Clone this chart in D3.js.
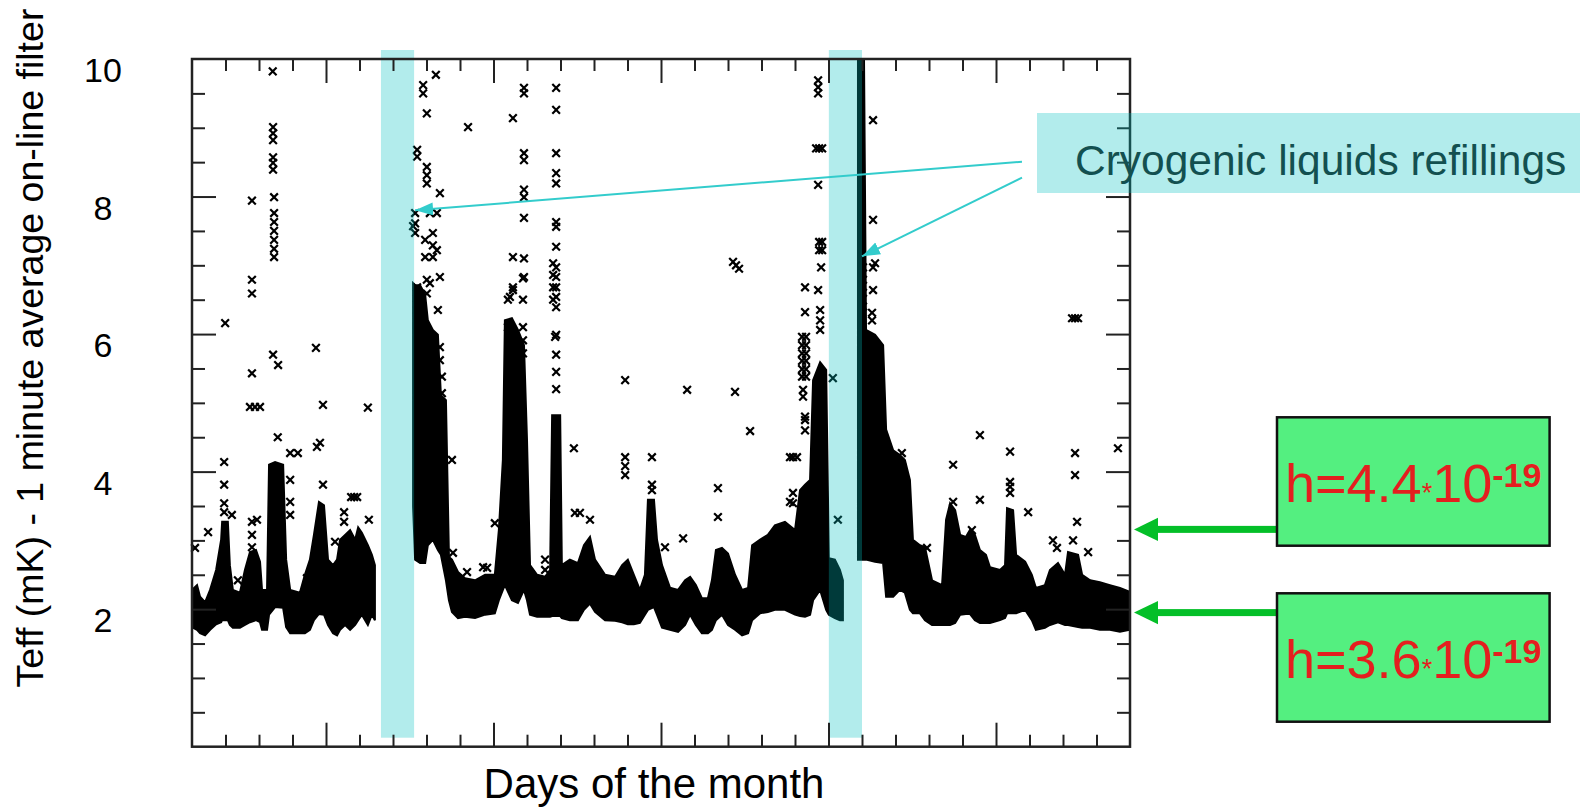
<!DOCTYPE html>
<html>
<head>
<meta charset="utf-8">
<script src="https://cdn.jsdelivr.net/npm/d3@7"></script>
<style>
body{margin:0;background:#fff;}
svg{display:block;font-family:"Liberation Sans",Arial,sans-serif;}
</style>
</head>
<body>
<svg width="1580" height="808"></svg>
<script>
// envelope of the dense cloud of 1-minute points: [day, low mK, high mK]
var envA=[
	[1.00,1.74,2.28],[1.15,1.70,2.35],[1.24,1.65,2.18],[1.39,1.62,2.10],[1.54,1.70,2.28],
	[1.72,1.78,2.57],[1.87,1.81,3.01],[1.90,1.84,3.27],[2.07,1.84,3.27],[2.13,1.77,2.64],
	[2.22,1.73,2.28],[2.43,1.73,2.24],[2.58,1.77,2.57],[2.73,1.81,2.83],[2.91,1.84,2.86],
	[3.03,1.81,2.69],[3.09,1.70,2.28],[3.24,1.70,2.28],[3.30,1.92,4.10],[3.48,2.03,4.14],
	[3.72,2.02,4.10],[3.81,1.74,2.72],[3.93,1.65,2.28],[4.22,1.65,2.24],[4.37,1.65,2.50],
	[4.52,1.70,2.72],[4.64,1.84,3.08],[4.79,1.93,3.56],[4.94,1.92,3.51],[5.06,1.77,2.72],
	[5.21,1.65,2.64],[5.33,1.62,2.72],[5.42,1.70,3.01],[5.57,1.77,3.08],[5.72,1.70,3.15],
	[5.87,1.77,3.01],[5.96,1.84,3.19],[6.07,1.92,3.11],[6.25,1.77,2.93],[6.37,1.92,2.79],
	[6.46,1.84,2.64]
];
var envB=[
	[7.60,3.49,6.74],[7.66,2.72,6.71],[7.81,2.67,6.71],[7.96,2.67,6.57],[8.04,2.93,6.20],
	[8.19,3.01,6.06],[8.34,2.86,5.99],[8.43,2.79,5.11],[8.58,2.42,5.04],[8.67,2.13,2.76],
	[8.76,1.96,2.72],[8.94,1.87,2.54],[9.15,1.89,2.45],[9.45,1.87,2.42],[9.75,1.92,2.50],
	[10.04,1.94,2.50],[10.16,2.13,3.15],[10.28,2.28,4.17],[10.34,2.35,6.20],[10.55,2.13,6.23],
	[10.73,2.09,6.06],[10.91,2.28,5.84],[11.00,2.13,4.46],[11.09,1.92,2.64],[11.30,1.89,2.50],
	[11.54,1.89,2.47],[11.69,1.89,2.57],[11.75,1.90,4.82],[11.99,1.90,4.82],[12.04,1.87,2.64],
	[12.28,1.84,2.72],[12.52,1.84,2.67],[12.70,1.99,2.93],[12.88,2.08,3.05],[13.03,1.96,2.72],
	[13.33,1.84,2.50],[13.63,1.83,2.47],[13.84,1.81,2.64],[14.01,1.78,2.72],[14.19,1.78,2.50],
	[14.37,1.80,2.28],[14.52,1.92,2.50],[14.61,1.99,3.59],[14.79,2.03,3.59],[14.88,1.92,3.01],
	[15.03,1.73,2.64],[15.27,1.70,2.31],[15.51,1.67,2.28],[15.72,1.77,2.42],[15.87,1.92,2.47],
	[16.04,1.77,2.35],[16.22,1.65,2.16],[16.40,1.65,2.16],[16.52,1.70,2.42],[16.64,1.84,2.86],
	[16.82,1.92,2.89],[17.00,1.77,2.81],[17.21,1.70,2.50],[17.42,1.62,2.28],[17.60,1.65,2.31],
	[17.72,1.84,2.93],[17.96,1.94,3.01],[18.19,1.96,3.08],[18.40,1.99,3.22],[18.70,1.99,3.27],
	[19.00,1.92,3.15],[19.15,1.90,3.73],[19.30,1.89,3.81],[19.45,1.92,3.88],[19.54,2.13,5.33],
	[19.75,2.28,5.59],[19.93,1.99,5.48],[20.01,1.92,2.74],[20.19,1.87,2.72],[20.34,1.84,2.57],
	[20.43,1.84,2.42]
];
var envC=[
	[20.88,2.72,9.99],[21.06,2.72,9.99],[21.12,2.72,6.06],[21.39,2.69,5.99],[21.63,2.67,5.84],
	[21.72,2.18,4.61],[21.93,2.18,4.31],[22.13,2.28,4.24],[22.28,2.24,4.17],[22.43,1.99,3.88],
	[22.52,1.94,3.01],[22.73,1.94,2.93],[22.88,1.84,2.90],[23.09,1.77,2.42],[23.39,1.77,2.35],
	[23.51,1.77,3.30],[23.63,1.77,3.54],[23.78,1.80,3.44],[23.93,1.92,3.08],[24.10,1.93,3.05],
	[24.22,1.93,3.15],[24.37,1.84,3.08],[24.52,1.80,2.86],[24.70,1.80,2.79],[24.82,1.80,2.61],
	[25.12,1.84,2.57],[25.27,1.87,2.64],[25.33,1.94,3.47],[25.51,1.94,3.44],[25.60,1.94,2.79],
	[25.87,1.99,2.69],[26.07,1.84,2.50],[26.19,1.70,2.31],[26.46,1.73,2.35],[26.61,1.77,2.57],
	[26.85,1.81,2.67],[27.06,1.77,2.50],[27.15,1.77,2.83],[27.45,1.74,2.79],[27.57,1.73,2.50],
	[27.81,1.73,2.42],[28.10,1.70,2.39],[28.40,1.70,2.35],[28.70,1.67,2.31],[29.00,1.70,2.25]
];
// isolated points above the cloud: [day, mK]
var outliers=[
	[3.41,9.82],[8.28,9.77],[7.90,9.62],[7.90,9.50],[8.01,9.21],[9.24,9.01],
	[3.42,9.01],[3.42,8.92],[3.42,8.82],[3.42,8.57],[3.42,8.49],[3.42,8.39],[3.45,7.99],
	[3.45,7.76],[3.45,7.63],[3.45,7.50],[3.45,7.37],[3.45,7.24],[3.45,7.12],
	[2.79,7.94],[2.79,6.79],[2.79,6.59],[1.99,6.16],[4.70,5.80],[3.42,5.70],[3.57,5.55],
	[2.79,5.43],[2.73,4.94],[2.88,4.94],[3.03,4.94],[4.91,4.97],[6.25,4.93],
	[7.66,7.76],[7.66,7.61],[7.66,7.47],[7.60,7.57],[7.72,8.68],[7.72,8.58],
	[8.01,8.43],[8.01,8.31],[8.01,8.19],[8.40,8.05],[8.10,7.76],[8.31,7.76],
	[7.96,7.37],[7.96,7.12],[8.19,7.47],[8.19,7.29],[8.19,7.12],[8.31,7.22],
	[7.72,6.68],[7.72,6.52],[7.72,6.35],[8.01,6.79],[8.01,6.59],[8.40,6.83],
	[3.56,4.50],[4.82,4.42],[4.73,4.36],[3.93,4.27],[4.16,4.27],
	[1.96,4.14],[1.96,3.81],[1.96,3.54],[1.96,3.41],[2.19,3.37],[1.48,3.12],[1.09,2.89],
	[2.79,3.27],[2.79,3.08],[2.94,3.30],[2.79,2.90],[4.91,3.81],
	[3.93,3.88],[3.93,3.56],[3.93,3.37],[5.75,3.63],[5.84,3.63],[5.93,3.63],
	[6.28,3.30],[5.54,3.41],[5.54,3.27],[2.37,2.42],[4.43,2.45],[5.27,2.98],
	[10.58,9.14],[10.91,9.58],[10.91,9.50],[11.87,9.58],[11.87,9.26],
	[10.91,8.63],[10.91,8.53],[11.87,8.63],[11.87,8.34],[11.87,8.19],
	[10.91,8.10],[10.91,7.99],[10.91,7.69],[11.87,7.63],[11.87,7.56],[11.87,7.27],
	[10.58,7.12],[10.91,7.10],[10.91,6.83],
	[11.87,6.97],[11.87,6.83],[11.87,6.68],[11.87,6.54],[11.87,6.39],
	[10.58,6.68],[10.49,6.54],[11.87,5.99],[11.87,5.70],[11.87,5.45],[11.87,5.20],
	[17.15,7.05],[17.24,7.00],[17.33,6.95],[13.93,5.33],[15.78,5.19],[17.21,5.16],
	[19.69,9.69],[19.69,9.59],[19.69,9.50],[19.63,8.70],[19.72,8.70],[19.81,8.70],
	[19.69,8.17],[19.72,7.34],[19.81,7.34],[19.72,7.22],[19.81,7.22],[19.78,6.97],
	[19.30,6.68],[19.69,6.64],[19.30,6.32],[19.75,6.35],[19.75,6.20],[19.75,6.06],
	[21.33,9.11],[21.33,7.66],[21.33,6.97],[21.39,7.03],
	[21.03,6.97],[21.03,6.79],[21.03,6.60],[21.03,6.40],[21.33,6.64],[21.30,6.31],[21.30,6.20],
	[17.66,4.59],[12.40,4.34],[13.93,4.21],[13.93,4.08],[13.93,3.95],[14.73,4.21],
	[14.73,3.81],[14.73,3.73],[16.70,3.76],[16.70,3.34],[15.66,3.03],
	[12.43,3.40],[12.58,3.40],[12.88,3.30],[18.94,3.54],[18.94,3.69],[18.94,4.21],[19.06,4.21],
	[19.30,4.75],[19.30,4.60],[10.04,3.25],[15.12,2.90],[11.54,2.72],[11.54,2.57],
	[20.13,5.36],[20.28,3.30],[21.33,4.85],[21.33,4.68],[21.33,4.50],
	[22.19,4.27],[22.19,4.07],[21.63,4.21],
	[19.21,5.96],[19.21,5.84],[19.21,5.72],[19.21,5.61],[19.21,5.49],[19.21,5.38],
	[19.33,5.96],[19.33,5.84],[19.33,5.72],[19.33,5.61],[19.33,5.49],[19.33,5.38],
	[19.24,5.19],[19.24,5.09],[19.30,4.80],
	[27.27,6.23],[27.36,6.23],[27.45,6.23],[24.52,4.53],[25.42,4.29],[23.72,4.10],
	[27.36,4.27],[27.36,3.95],[28.64,4.34],[25.42,3.85],[25.42,3.78],[25.42,3.69],
	[24.52,3.59],[23.72,3.56],[25.96,3.41],[27.42,3.27],[26.70,3.00],[26.82,2.89],
	[27.30,3.00],[27.75,2.83],[24.28,3.15],[22.94,2.89],
	[10.88,6.81],[10.58,6.64],[10.43,6.50],[10.88,6.50],[10.43,6.10],[10.88,6.10],
	[10.88,5.91],[10.88,5.72],[11.78,7.03],[11.78,6.86],[11.78,6.68],[11.78,6.50],[11.84,5.96],
	[8.10,6.74],[8.34,6.35],[8.40,5.81],[8.40,5.62],[8.46,5.38],[8.46,5.14],[8.76,4.17],
	[9.21,2.54],[9.69,2.61],[9.81,2.60],[7.87,3.08],[8.10,3.05],[8.79,2.82],
	[18.85,4.21],[18.85,3.56]
];
// refilling periods (day from, day to) and where the callout arrows point
var refills=[[6.64,7.63],[20.01,21.0]];
var refillTips=[[7.66,7.80],[21.0,7.13]];
var yLabels=[10,8,6,4,2];
var levelValues=[3.16,1.95];
var levelTexts=["4.4","3.6"];

var width=1580,height=808;
var plotLeft=192,plotRight=1130,plotTop=59,plotBottom=746.7;
var cyan="#00c0c0",cyanLine="#33cccc",green="#04bf28";

var x=d3.scaleLinear().domain([1,29]).range([plotLeft,plotRight]);
var y=d3.scaleLinear().domain([0,10]).range([plotBottom,plotTop]);
var svg=d3.select("svg");

// the cloud
var area=d3.area().x(function(d){return x(d[0]);}).y0(function(d){return y(d[1]);}).y1(function(d){return y(d[2]);});
svg.selectAll(".env").data([envA,envB,envC]).enter().append("path")
	.attr("d",area).attr("fill","#000").attr("stroke","#000").attr("stroke-width",2);

var sym=d3.symbol().type(d3.symbolX).size(40);
svg.selectAll(".pt").data(outliers).enter().append("path")
	.attr("transform",function(d){return "translate("+x(d[0])+","+y(d[1])+")";})
	.attr("d",sym).attr("fill","none").attr("stroke","#000").attr("stroke-width",2.2);

// refill bands, drawn over the points
svg.selectAll(".refill").data(refills).enter().append("rect")
	.attr("x",function(d){return x(d[0]);})
	.attr("width",function(d){return x(d[1])-x(d[0]);})
	.attr("y",y(10)-9).attr("height",y(0)-y(10))
	.attr("fill",cyan).attr("opacity",0.3);

// ticks on all four sides, pointing in
var minorDays=d3.range(2,29).filter(function(d){return d%5!=0;});
var majorDays=[5,10,15,20,25];
var minorVals=d3.range(0.5,10,0.5).filter(function(d){return d%2!=0;});
var majorVals=[2,4,6,8];
function tickRow(axisFn,scale,vals,len,tr) {
	var g=svg.append("g").attr("transform",tr)
		.call(axisFn(scale).tickValues(vals).tickSize(len).tickFormat(""));
	g.select(".domain").remove();
	g.selectAll("line").attr("stroke","#222").attr("stroke-width",2);
}
tickRow(d3.axisBottom,x,minorDays,-12,"translate(0,"+plotBottom+")");
tickRow(d3.axisBottom,x,majorDays,-24,"translate(0,"+plotBottom+")");
tickRow(d3.axisTop,x,minorDays,-12,"translate(0,"+plotTop+")");
tickRow(d3.axisTop,x,majorDays,-24,"translate(0,"+plotTop+")");
tickRow(d3.axisLeft,y,minorVals,-13,"translate("+plotLeft+",0)");
tickRow(d3.axisLeft,y,majorVals,-24,"translate("+plotLeft+",0)");
tickRow(d3.axisRight,y,minorVals,-13,"translate("+plotRight+",0)");
tickRow(d3.axisRight,y,majorVals,-24,"translate("+plotRight+",0)");
svg.append("rect").attr("x",plotLeft).attr("y",plotTop)
	.attr("width",plotRight-plotLeft).attr("height",plotBottom-plotTop)
	.attr("fill","none").attr("stroke","#222").attr("stroke-width",2.5);

svg.selectAll(".ylab").data(yLabels).enter().append("text")
	.attr("x",103).attr("y",function(d){return y(d)+23;})
	.attr("text-anchor","middle").attr("font-size",34).attr("fill","#000")
	.text(function(d){return d;});

svg.append("text").attr("x",654).attr("y",798).attr("text-anchor","middle")
	.attr("font-size",42).attr("fill","#000").text("Days of the month");
svg.append("text").attr("transform","translate(43,348) rotate(-90)")
	.attr("text-anchor","middle").attr("font-size",37.5).attr("fill","#000")
	.text("Teff (mK) - 1 minute average on-line filter");

// callout
svg.append("defs").append("marker").attr("id","tip")
	.attr("markerUnits","userSpaceOnUse").attr("markerWidth",20).attr("markerHeight",14)
	.attr("refX",18).attr("refY",6.5).attr("orient","auto")
	.append("path").attr("d","M0,0L18,6.5L0,13Z").attr("fill",cyanLine);
var starts=[[1022,161.7],[1022,177.7]];
svg.selectAll(".callout").data(refillTips).enter().append("line")
	.attr("x1",function(d,i){return starts[i][0];}).attr("y1",function(d,i){return starts[i][1];})
	.attr("x2",function(d){return x(d[0]);}).attr("y2",function(d){return y(d[1]);})
	.attr("stroke",cyanLine).attr("stroke-width",2).attr("marker-end","url(#tip)");
svg.append("rect").attr("x",1037).attr("y",113).attr("width",543).attr("height",80)
	.attr("fill",cyan).attr("opacity",0.3);
svg.append("text").attr("x",1075).attr("y",175).attr("font-size",42.5).attr("fill","#135050")
	.text("Cryogenic liquids refillings");

// strain sensitivity levels
var boxTops=[417.3,593.3];
levelValues.forEach(function(v,i) {
	var ya=y(v);
	svg.append("rect").attr("x",1156).attr("y",ya-3.5).attr("width",121).attr("height",7).attr("fill",green);
	svg.append("path").attr("d","M1134,"+ya+"L1158,"+(ya-11.7)+"L1158,"+(ya+11.7)+"Z").attr("fill",green);
	svg.append("rect").attr("x",1277).attr("y",boxTops[i]).attr("width",272.6).attr("height",128.4)
		.attr("fill","#54ef80").attr("stroke","#111").attr("stroke-width",2.5);
	var t=svg.append("text").attr("x",1285).attr("y",boxTops[i]+84.4)
		.attr("font-size",54).attr("fill","#e41f1f");
	t.append("tspan").text("h="+levelTexts[i]);
	t.append("tspan").attr("font-size",27).text("*");
	t.append("tspan").text("10");
	t.append("tspan").attr("font-size",34).attr("font-weight","bold").attr("dy",-15).text("-19");
});
</script>
</body>
</html>
